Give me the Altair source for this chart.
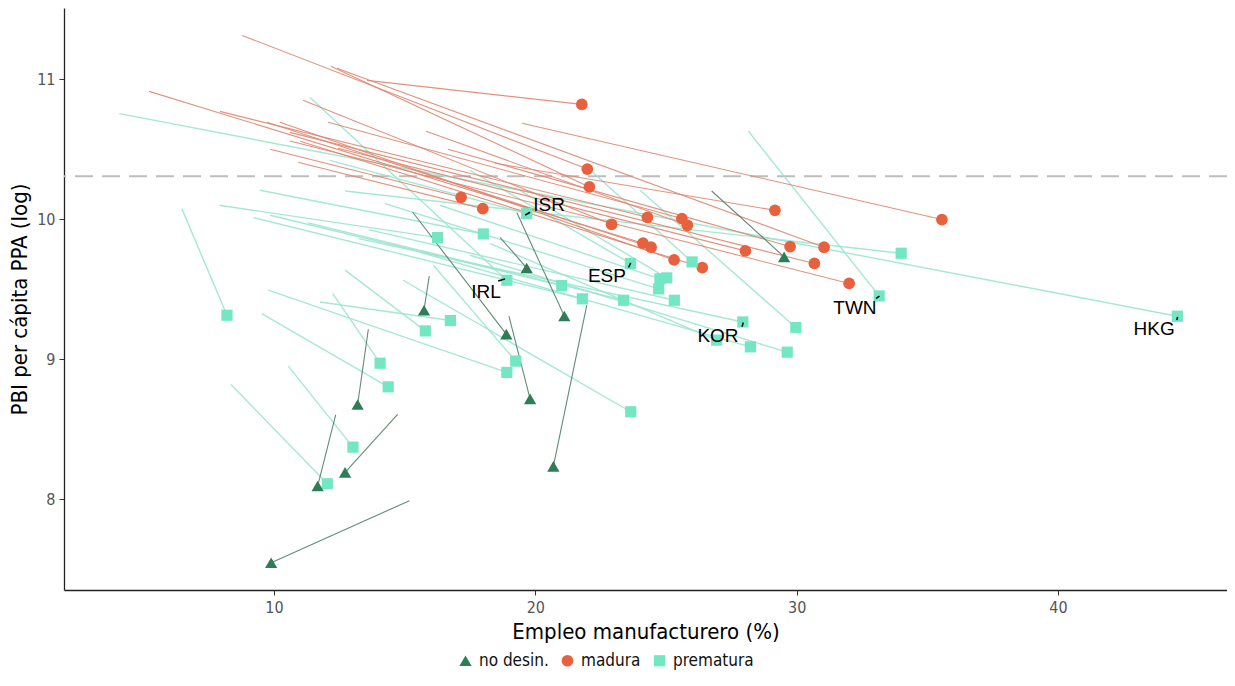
import altair as alt
import pandas as pd

# ---- datos ----
categorias = ["no desin.", "madura", "prematura"]
colores_marca = ["#2E7D55", "#E8613F", "#73E6C4"]
colores_linea = ["#4F7F66", "#DE8670", "#9BE6D0"]
formas = ["triangle-up", "circle", "square"]
tamanos = [150, 125, 115]

mad_x = [21.78, 21.99, 22.07, 17.16, 17.99, 22.92, 24.29, 25.61, 25.82, 24.12,
         24.43, 25.31, 26.39, 29.17, 28.04, 29.75, 31.05, 30.68, 32.01, 35.56]
mad_y = [10.821, 10.359, 10.231, 10.157, 10.076, 9.964, 10.014, 10.005, 9.957, 9.829,
         9.800, 9.709, 9.655, 10.064, 9.774, 9.805, 9.800, 9.684, 9.541, 9.998]
mad_x0 = [13.56, 8.78, 12.18, 9.85, 10.92, 11.11, 7.93, 12.07, 15.82, 5.22,
          9.73, 10.23, 11.00, 18.46, 12.45, 16.66, 12.41, 10.61, 10.61, 19.49]
mad_y0 = [10.993, 11.314, 11.093, 10.500, 10.407, 10.850, 10.771, 10.693, 10.629, 10.914,
          10.693, 10.693, 10.557, 10.400, 10.507, 10.500, 11.079, 10.621, 10.560, 10.686]

nod_x = [29.52, 19.67, 15.74, 18.89, 21.11, 19.80, 20.69, 13.20, 11.67, 12.72, 9.89]
nod_y = [9.731, 9.652, 9.350, 9.179, 9.309, 8.716, 8.234, 8.676, 8.093, 8.191, 7.545]
nod_x0 = [26.75, 18.65, 15.94, 15.31, 19.29, 18.99, 21.97, 13.61, 12.36, 14.73, 15.18]
nod_y0 = [10.202, 9.871, 9.593, 10.050, 10.048, 9.307, 9.386, 9.214, 8.602, 8.605, 7.988]

pre_x = [44.57, 18.91, 8.20, 18.91, 14.06, 15.79, 16.75, 14.37, 13.02, 12.04,
         23.65, 33.16, 34.00, 16.26, 21.80, 23.38, 25.32, 27.94, 28.23, 24.72,
         26.94, 19.67, 18.01, 21.01, 23.64, 24.77, 25.03, 26.00, 29.97, 29.64, 19.25]
pre_y = [9.307, 9.564, 9.314, 8.905, 8.971, 9.202, 9.276, 8.802, 8.371, 8.109,
         8.624, 9.452, 9.757, 9.869, 9.431, 9.421, 9.421, 9.266, 9.088, 9.502,
         9.136, 10.041, 9.895, 9.526, 9.684, 9.574, 9.581, 9.695, 9.226, 9.050, 8.986]
pre_x0 = [4.08, 11.38, 6.47, 9.78, 12.25, 12.72, 11.76, 9.53, 10.55, 8.35,
          14.94, 28.15, 12.72, 7.91, 9.21, 11.31, 13.61, 13.23, 15.59, 14.25,
          18.27, 12.14, 9.46, 9.85, 17.50, 16.35, 19.41, 21.90, 24.01, 17.50, 16.10]
pre_y0 = [10.755, 10.871, 10.076, 9.493, 9.469, 9.636, 9.409, 9.326, 8.950, 8.819,
          9.564, 10.631, 10.202, 10.100, 10.012, 9.974, 9.926, 9.862, 9.764, 10.112,
          9.826, 10.421, 10.207, 10.029, 10.350, 10.100, 10.207, 10.386, 10.207, 9.743, 9.671]

# etiquetas de países y sus pequeños conectores
etq_texto = ["ISR", "IRL", "ESP", "KOR", "TWN", "HKG"]
etq_x = [20.53, 18.11, 22.74, 26.99, 32.23, 43.68]
etq_y = [10.10, 9.479, 9.593, 9.164, 9.364, 9.214]
con_x0 = [19.61, 18.58, 23.57, 27.91, 33.04, 44.55]
con_y0 = [10.029, 9.559, 9.655, 9.231, 9.434, 9.279]
con_x1 = [19.80, 18.84, 23.65, 27.96, 33.17, 44.58]
con_y1 = [10.050, 9.574, 9.688, 9.262, 9.450, 9.302]

umbral = 10.307

filas = []
for cat, xs_, ys_, x0s, y0s in [
    ("madura", mad_x, mad_y, mad_x0, mad_y0),
    ("prematura", pre_x, pre_y, pre_x0, pre_y0),
    ("no desin.", nod_x, nod_y, nod_x0, nod_y0),
]:
    for a, b, c, d in zip(xs_, ys_, x0s, y0s):
        filas.append({"estado": cat, "x": a, "y": b, "x0": c, "y0": d})
df = pd.DataFrame(filas)
df_etq = pd.DataFrame({"t": etq_texto, "x": etq_x, "y": etq_y})
df_con = pd.DataFrame({"x0": con_x0, "y0": con_y0, "x1": con_x1, "y1": con_y1})

FONT = "Liberation Sans Narrow, DejaVu Sans Condensed, sans-serif"

xs = alt.Scale(domain=[1.963, 46.47], nice=False, zero=False)
ys = alt.Scale(domain=[7.35, 11.51], nice=False, zero=False)

base = alt.Chart(df)


def capa_lineas(cat, col, ancho):
    return base.transform_filter(alt.datum.estado == cat).mark_rule(
        strokeWidth=ancho, color=col, opacity=0.9
    ).encode(
        x=alt.X("x0:Q", scale=xs,
                axis=alt.Axis(values=[10, 20, 30, 40], format="d",
                              title="Empleo manufacturero (%)")),
        y=alt.Y("y0:Q", scale=ys,
                axis=alt.Axis(values=[8, 9, 10, 11], format="d",
                              title="PBI per cápita PPA (log)")),
        x2="x:Q",
        y2="y:Q",
    )


lin_pre = capa_lineas("prematura", colores_linea[2], 1.4)
lin_mad = capa_lineas("madura", colores_linea[1], 1.1)
lin_nod = capa_lineas("no desin.", colores_linea[0], 1.1)

umbral_df = pd.DataFrame({"y": [umbral]})
linea_umbral = alt.Chart(umbral_df).mark_rule(
    color="#BDBDBD", strokeWidth=2, strokeDash=[18, 9]
).encode(y=alt.Y("y:Q", scale=ys))

puntos = base.mark_point(filled=True, opacity=1).encode(
    x=alt.X("x:Q", scale=xs),
    y=alt.Y("y:Q", scale=ys),
    color=alt.Color("estado:N",
                    scale=alt.Scale(domain=categorias, range=colores_marca),
                    title=None),
    shape=alt.Shape("estado:N",
                    scale=alt.Scale(domain=categorias, range=formas),
                    title=None),
    size=alt.Size("estado:N",
                  scale=alt.Scale(domain=categorias, range=tamanos),
                  title=None),
)

conectores = alt.Chart(df_con).mark_rule(color="#000", strokeWidth=1.5).encode(
    x=alt.X("x0:Q", scale=xs), y=alt.Y("y0:Q", scale=ys), x2="x1:Q", y2="y1:Q"
)

textos = alt.Chart(df_etq).mark_text(
    font="Liberation Sans, Arial, sans-serif", fontSize=19, color="#000",
    align="center", baseline="middle"
).encode(x=alt.X("x:Q", scale=xs), y=alt.Y("y:Q", scale=ys), text="t:N")

chart = alt.layer(linea_umbral, lin_pre, lin_mad, lin_nod, puntos, conectores, textos).properties(
    width=1163, height=582,
    padding={"left": 56, "top": 0, "right": 0, "bottom": 88},
    autosize=alt.AutoSizeParams(type="none"),
).configure_view(stroke=None).configure_axis(
    grid=False,
    domainColor="#222", domainWidth=1.3,
    tickColor="#333", tickSize=5,
    labelFont=FONT, labelFontSize=16, labelColor="#555",
    titleFont=FONT, titleFontSize=22, titleColor="#000", titleFontWeight="normal",
).configure_axisX(labelPadding=4, titlePadding=6).configure_axisY(
    labelPadding=4, titlePadding=5
).configure_legend(
    orient="none", legendX=393, legendY=644, direction="horizontal",
    labelFont=FONT, labelFontSize=17, labelColor="#111",
    columnPadding=10, labelOffset=5,
)

chart.save("out.html", embed_options={"renderer": "svg", "actions": False})
